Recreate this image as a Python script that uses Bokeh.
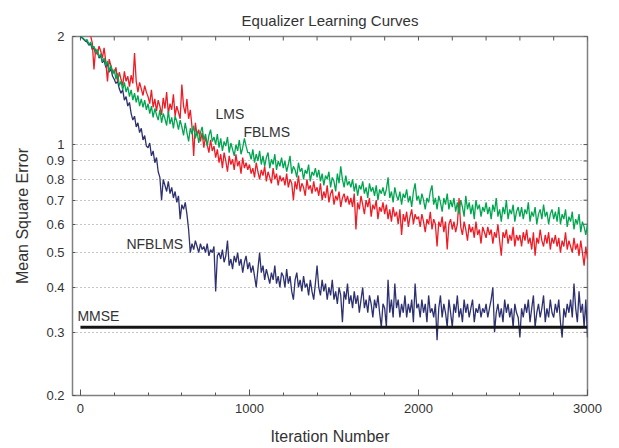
from bokeh.plotting import figure
from bokeh.models import FixedTicker, CustomJSTickFormatter, Range1d, Label
from bokeh.embed import file_html
from bokeh.resources import INLINE

# ---------------- data (sampled every 10 iterations) ----------------
step = 10
lms = [
    2.00, 1.99, 1.97, 1.95, 1.96, 1.90, 1.93, 1.86, 1.88, 1.80, 1.84, 1.75, 1.79, 1.70, 1.74, 1.66, 1.71, 1.60, 1.66, 1.57,
    1.62, 1.52, 1.58, 1.46, 1.50, 1.42, 1.49, 1.40, 1.45, 1.36, 1.42, 1.33, 1.39, 1.31, 1.37, 1.28, 1.34, 1.27, 1.33, 1.25,
    1.30, 1.22, 1.28, 1.19, 1.26, 1.21, 1.17, 1.25, 1.15, 1.22, 1.18, 1.13, 1.24, 1.14, 1.19, 1.11, 1.20, 1.16, 1.10, 1.17,
    1.12, 1.06, 1.15, 1.08, 1.02, 1.11, 1.07, 1.13, 1.04, 1.09, 1.01, 1.08, 1.12, 1.03, 1.07, 0.99, 1.06, 1.10, 1.02, 1.05,
    1.00, 1.07, 0.98, 1.04, 0.96, 1.02, 0.99, 1.05, 0.95, 1.01, 0.97, 0.93, 1.00, 0.96, 1.03, 0.94, 0.98, 1.04, 0.99, 0.95,
    0.95, 0.91, 0.97, 0.89, 0.94, 0.90, 0.96, 0.88, 0.93, 0.87, 0.92, 0.95, 0.86, 0.91, 0.88, 0.94, 0.85, 0.90, 0.87, 0.92,
    0.86, 0.90, 0.84, 0.88, 0.93, 0.83, 0.87, 0.85, 0.81, 0.89, 0.84, 0.86, 0.80, 0.85, 0.83, 0.88, 0.79, 0.84, 0.82, 0.86,
    0.81, 0.85, 0.79, 0.83, 0.77, 0.82, 0.80, 0.84, 0.76, 0.81, 0.79, 0.74, 0.83, 0.78, 0.87, 0.80, 0.76, 0.82, 0.77, 0.79,
    0.76, 0.80, 0.74, 0.78, 0.72, 0.77, 0.75, 0.79, 0.73, 0.76, 0.71, 0.78, 0.74, 0.76, 0.72, 0.77, 0.70, 0.75, 0.73, 0.76,
    0.72, 0.75, 0.81, 0.71, 0.74, 0.69, 0.76, 0.72, 0.70, 0.74, 0.68, 0.73, 0.71, 0.75, 0.69, 0.72, 0.67, 0.74, 0.78, 0.70,
    0.72, 0.68, 0.73, 0.70, 0.66, 0.71, 0.69, 0.74, 0.77, 0.68, 0.71, 0.66, 0.72, 0.69, 0.65, 0.71, 0.68, 0.73, 0.66, 0.70,
    0.67, 0.71, 0.65, 0.69, 0.64, 0.70, 0.67, 0.63, 0.72, 0.66, 0.69, 0.64, 0.68, 0.62, 0.70, 0.66, 0.68, 0.63, 0.67, 0.65,
    0.69, 0.64, 0.67, 0.62, 0.68, 0.65, 0.71, 0.63, 0.66, 0.61, 0.67, 0.64, 0.70, 0.62, 0.66, 0.64, 0.68, 0.61, 0.65, 0.67,
    0.63, 0.67, 0.62, 0.66, 0.64, 0.69, 0.61, 0.65, 0.63, 0.67, 0.60, 0.64, 0.66, 0.62, 0.68, 0.63, 0.65, 0.60, 0.64, 0.66,
    0.62, 0.65, 0.61, 0.67, 0.60, 0.64, 0.62, 0.66, 0.59, 0.63, 0.61, 0.65, 0.58, 0.62, 0.60, 0.64, 0.57, 0.61, 0.59, 0.56,
    0.60,
]
fblms = [
    2.05, 2.08, 2.04, 2.06, 2.03, 2.05, 2.01, 1.92, 1.62, 1.85, 1.78, 1.88, 1.82, 1.74, 1.86, 1.70, 1.50, 1.73, 1.66, 1.60,
    1.58, 1.64, 1.50, 1.59, 1.52, 1.46, 1.60, 1.50, 1.55, 1.45, 1.56, 1.48, 1.80, 1.50, 1.40, 1.49, 1.43, 1.37, 1.46, 1.40,
    1.36, 1.30, 1.42, 1.27, 1.34, 1.24, 1.33, 1.28, 1.21, 1.35, 1.26, 1.40, 1.22, 1.30, 1.25, 1.38, 1.20, 1.28, 1.23, 1.18,
    1.47, 1.28, 1.22, 1.34, 1.18, 1.25, 1.12, 0.93, 1.15, 1.06, 1.10, 1.02, 1.08, 0.98, 1.05, 1.00, 0.95, 1.03, 0.96, 0.99,
    0.92, 0.97, 0.89, 0.94, 0.86, 0.95, 0.90, 0.84, 0.93, 0.88, 0.91, 0.85, 0.94, 0.87, 0.90, 0.83, 0.92, 0.86, 0.89, 0.85,
    0.88, 0.83, 0.86, 0.81, 0.89, 0.84, 0.80, 0.85, 0.82, 0.87, 0.79, 0.84, 0.81, 0.78, 0.86, 0.80, 0.83, 0.77, 0.82, 0.79,
    0.81, 0.77, 0.83, 0.76, 0.80, 0.78, 0.70, 0.79, 0.75, 0.82, 0.74, 0.78, 0.76, 0.72, 0.80, 0.75, 0.77, 0.73, 0.79, 0.74,
    0.76, 0.72, 0.78, 0.70, 0.74, 0.71, 0.77, 0.69, 0.73, 0.75, 0.68, 0.72, 0.70, 0.74, 0.67, 0.71, 0.73, 0.69, 0.72, 0.68,
    0.71, 0.67, 0.73, 0.58, 0.69, 0.66, 0.72, 0.68, 0.64, 0.70, 0.67, 0.71, 0.63, 0.68, 0.66, 0.70, 0.62, 0.67, 0.65, 0.69,
    0.64, 0.68, 0.62, 0.66, 0.61, 0.67, 0.63, 0.65, 0.60, 0.66, 0.56, 0.64, 0.61, 0.65, 0.59, 0.63, 0.66, 0.60, 0.64, 0.62,
    0.63, 0.59, 0.64, 0.61, 0.57, 0.62, 0.60, 0.65, 0.58, 0.62, 0.60, 0.52, 0.61, 0.59, 0.63, 0.57, 0.61, 0.51, 0.60, 0.62,
    0.58, 0.61, 0.57, 0.60, 0.71, 0.59, 0.56, 0.61, 0.58, 0.54, 0.60, 0.57, 0.59, 0.55, 0.61, 0.56, 0.58, 0.53, 0.59, 0.57,
    0.55, 0.59, 0.56, 0.58, 0.53, 0.57, 0.55, 0.60, 0.54, 0.49, 0.57, 0.55, 0.58, 0.53, 0.56, 0.54, 0.59, 0.52, 0.56, 0.54,
    0.56, 0.52, 0.57, 0.54, 0.58, 0.53, 0.55, 0.51, 0.57, 0.49, 0.55, 0.53, 0.58, 0.54, 0.52, 0.56, 0.53, 0.57, 0.51, 0.55,
    0.53, 0.56, 0.52, 0.55, 0.50, 0.54, 0.52, 0.57, 0.51, 0.54, 0.52, 0.50, 0.55, 0.51, 0.53, 0.49, 0.54, 0.50, 0.46, 0.52,
    0.48,
]
nfblms = [
    2.00, 1.98, 1.96, 1.94, 1.93, 1.89, 1.91, 1.84, 1.86, 1.79, 1.82, 1.74, 1.77, 1.69, 1.72, 1.64, 1.68, 1.59, 1.63, 1.55,
    1.52, 1.48, 1.50, 1.43, 1.39, 1.42, 1.33, 1.36, 1.28, 1.31, 1.22, 1.17, 1.20, 1.12, 1.15, 1.08, 1.11, 1.03, 1.06, 0.99,
    0.98, 1.01, 0.93, 0.96, 0.89, 0.92, 0.84, 0.81, 0.70, 0.80, 0.77, 0.74, 0.79, 0.73, 0.76, 0.71, 0.74, 0.69, 0.72, 0.62,
    0.68, 0.66, 0.69, 0.64, 0.58, 0.50, 0.53, 0.51, 0.54, 0.52, 0.50, 0.53, 0.51, 0.52, 0.50, 0.53, 0.49, 0.51, 0.50, 0.52,
    0.39, 0.49, 0.50, 0.48, 0.51, 0.47, 0.49, 0.54, 0.46, 0.48, 0.45, 0.49, 0.47, 0.50, 0.46, 0.48, 0.44, 0.47, 0.49, 0.45,
    0.47, 0.44, 0.46, 0.43, 0.40, 0.45, 0.50, 0.44, 0.46, 0.42, 0.45, 0.43, 0.41, 0.44, 0.42, 0.46, 0.41, 0.43, 0.40, 0.44,
    0.43, 0.40, 0.45, 0.41, 0.43, 0.39, 0.37, 0.42, 0.44, 0.40, 0.42, 0.39, 0.43, 0.40, 0.41, 0.38, 0.42, 0.39, 0.37, 0.41,
    0.46, 0.40, 0.38, 0.42, 0.39, 0.41, 0.37, 0.40, 0.38, 0.42, 0.37, 0.39, 0.36, 0.40, 0.38, 0.32, 0.39, 0.37, 0.41, 0.36,
    0.38, 0.35, 0.39, 0.36, 0.38, 0.34, 0.37, 0.40, 0.35, 0.37, 0.34, 0.38, 0.36, 0.33, 0.37, 0.35, 0.38, 0.34, 0.31, 0.36,
    0.35, 0.31, 0.42, 0.34, 0.37, 0.33, 0.41, 0.35, 0.37, 0.33, 0.36, 0.34, 0.38, 0.33, 0.36, 0.34, 0.37, 0.32, 0.41, 0.35,
    0.36, 0.33, 0.37, 0.34, 0.36, 0.32, 0.38, 0.34, 0.35, 0.33, 0.36, 0.285, 0.35, 0.38, 0.33, 0.36, 0.34, 0.31, 0.37, 0.34,
    0.31, 0.36, 0.34, 0.38, 0.33, 0.35, 0.32, 0.37, 0.34, 0.36, 0.33, 0.35, 0.37, 0.32, 0.35, 0.34, 0.36, 0.33, 0.35, 0.34,
    0.36, 0.33, 0.35, 0.37, 0.40, 0.30, 0.34, 0.36, 0.33, 0.35, 0.32, 0.37, 0.34, 0.36, 0.33, 0.35, 0.31, 0.36, 0.34, 0.33,
    0.29, 0.35, 0.33, 0.36, 0.34, 0.37, 0.32, 0.35, 0.38, 0.31, 0.34, 0.36, 0.33, 0.35, 0.38, 0.32, 0.35, 0.33, 0.37, 0.34,
    0.33, 0.36, 0.34, 0.37, 0.32, 0.29, 0.35, 0.33, 0.36, 0.34, 0.37, 0.33, 0.41, 0.35, 0.32, 0.39, 0.34, 0.36, 0.31, 0.37,
    0.29,
]
mmse = 0.31
series_names = ["LMS", "FBLMS", "NFBLMS", "MMSE"]
y_ticks = [0.2, 0.3, 0.4, 0.5, 0.6, 0.7, 0.8, 0.9, 1, 2]
x_major = [0, 1000, 2000, 3000]
x_minor = [200, 400, 600, 800, 1200, 1400, 1600, 1800, 2200, 2400, 2600, 2800]


def iters(series):
    return list(range(0, step * len(series), step))


FONT = "Liberation Sans"
TXT = "#333333"
FRAME = "#808080"
TICK = "#555555"

x_range = Range1d(-47, 3000)
y_range = Range1d(0.2, 2)
p = figure(frame_width=515, frame_height=359, y_axis_type="log",
           x_range=x_range, y_range=y_range,
           output_backend="svg", toolbar_location=None,
           min_border_left=72, min_border_right=24, min_border_top=36, min_border_bottom=51,
           title="Equalizer Learning Curves")
p.background_fill_color = "white"
p.border_fill_color = "white"
p.outline_line_color = FRAME
p.outline_line_width = 1.5

p.title.align = "center"
p.title.text_font = FONT
p.title.text_font_size = "15px"
p.title.text_font_style = "normal"
p.title.text_color = TXT
if "standoff" in p.title.properties():
    p.title.standoff = 16

# bottom axis
xa = p.xaxis[0]
xa.ticker = FixedTicker(ticks=x_major, minor_ticks=x_minor)
xa.axis_line_color = None
xa.major_tick_in = 6
xa.major_tick_out = 0
xa.minor_tick_in = 3
xa.minor_tick_out = 0
xa.major_tick_line_color = TICK
xa.minor_tick_line_color = TICK
xa.major_label_text_font = FONT
xa.major_label_text_font_size = "13px"
xa.major_label_text_color = TXT
xa.major_label_standoff = 8
xa.axis_label = "Iteration Number"
xa.axis_label_text_font = FONT
xa.axis_label_text_font_size = "16px"
xa.axis_label_text_font_style = "normal"
xa.axis_label_text_color = TXT
xa.axis_label_standoff = 12

# left axis
ya = p.yaxis[0]
ya.ticker = FixedTicker(ticks=y_ticks, minor_ticks=[])
ya.formatter = CustomJSTickFormatter(code="return tick >= 1 ? tick.toFixed(0) : tick.toFixed(1);")
ya.axis_line_color = None
ya.major_tick_in = 3
ya.major_tick_out = 0
ya.minor_tick_in = 0
ya.minor_tick_out = 0
ya.major_tick_line_color = TICK
ya.major_label_text_font = FONT
ya.major_label_text_font_size = "13px"
ya.major_label_text_color = TXT
ya.major_label_standoff = 8
ya.axis_label = "Mean Square Error"
ya.axis_label_text_font = FONT
ya.axis_label_text_font_size = "16px"
ya.axis_label_text_font_style = "normal"
ya.axis_label_text_color = TXT
ya.axis_label_standoff = 12

p.xgrid.visible = False
p.ygrid.ticker = FixedTicker(ticks=y_ticks, minor_ticks=[])
p.ygrid.grid_line_color = "#8c8c8c"
p.ygrid.grid_line_dash = "1 3"
p.ygrid.grid_line_width = 1

# inward tick marks on the top and right frame edges (half of each dash is clipped by the frame)
top_ticks = x_major + x_minor
p.scatter(top_ticks, [y_range.end] * len(top_ticks), marker="dash", angle=90, angle_units="deg",
          size=8, line_color=TICK, line_width=1)
p.scatter([x_range.end] * len(y_ticks), y_ticks, marker="dash",
          size=8, line_color=TICK, line_width=1)

# curves
p.line(iters(nfblms), nfblms, line_color="#2d3170", line_width=1.3)
p.line(iters(fblms), fblms, line_color="#ee1c25", line_width=1.3)
p.line(iters(lms), lms, line_color="#00a550", line_width=1.3)
mx = iters(lms)
p.line([mx[0], mx[-1]], [mmse, mmse], line_color="#151515", line_width=3)

label_pos = [(799, 1.213), (964, 1.081), (272, 0.527), (-18, 0.332)]
for name, (lx, ly) in zip(series_names, label_pos):
    p.add_layout(Label(x=lx, y=ly, text=name, text_font=FONT, text_font_size="14px",
                       text_color=TXT, text_baseline="middle", text_align="left"))

open("out.html", "w").write(file_html(p, INLINE))
